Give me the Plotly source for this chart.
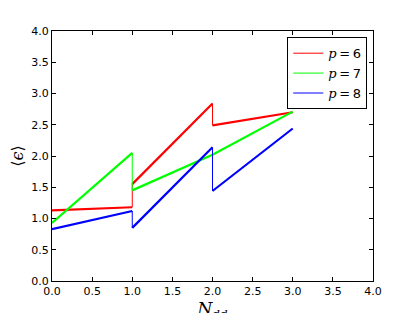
import plotly.graph_objects as go

x_nodes = [0, 1, 2, 3]
labels = ["p=6", "p=7", "p=8"]
colors = ["#ff0000", "#00ff00", "#0000ff"]
# value at start and end of each unit interval [x_i, x_{i+1}]
start_vals = {
    "p=6": [1.13, 1.55, 2.49],
    "p=7": [0.93, 1.45, 2.02],
    "p=8": [0.83, 0.85, 1.44],
}
end_vals = {
    "p=6": [1.18, 2.84, 2.70],
    "p=7": [2.05, 2.02, 2.71],
    "p=8": [1.12, 2.14, 2.44],
}

fig = go.Figure()
for lab, col in zip(labels, colors):
    s, e = start_vals[lab], end_vals[lab]
    xs, ys = [], []
    for i in range(len(s)):
        xs += [x_nodes[i], x_nodes[i + 1], None]
        ys += [s[i], e[i], None]
    vx, vy = [], []
    for i in range(1, len(s)):
        vx += [x_nodes[i], x_nodes[i], None]
        vy += [e[i - 1], s[i], None]
    p, num = lab.split("=")
    name = ('<i style="font-family:\'DejaVu Serif\'">' + p + "</i>\u2009=\u2009" + num)
    fig.add_trace(go.Scatter(x=vx, y=vy, mode="lines", line=dict(color=col, width=1),
                             name=name, showlegend=True, legendrank=labels.index(lab)))
    fig.add_trace(go.Scatter(x=xs, y=ys, mode="lines", line=dict(color=col, width=2.2),
                             showlegend=False, hoverinfo="skip"))

axis_common = dict(
    showgrid=False, zeroline=False, showline=True, linecolor="black", linewidth=1,
    mirror="ticks", ticks="inside", ticklen=4, tickcolor="black",
    tickfont=dict(family="DejaVu Sans", size=11, color="black"),
    range=[0, 4], dtick=0.5, tickformat=".1f", automargin=False,
)
fig.update_xaxes(**axis_common,
                 title=dict(text="<i>N</i><sub><i>dd</i></sub>",
                            font=dict(family="DejaVu Serif", size=17, color="black")))
fig.update_yaxes(**axis_common,
                 title=dict(text="⟨<i>ϵ</i>⟩",
                            font=dict(family="DejaVu Serif", size=16, color="black")))

# page body has an 8px default margin, so offsets compensate
fig.update_layout(
    width=415, height=313,
    margin=dict(l=44, r=50, t=23, b=40, autoexpand=False),
    plot_bgcolor="white", paper_bgcolor="white",
    legend=dict(x=0.982, y=0.975, xanchor="right", yanchor="top",
                bordercolor="black", borderwidth=1, bgcolor="white",
                font=dict(family="DejaVu Sans", size=13, color="black"),
                itemwidth=30, tracegroupgap=0),
    showlegend=True,
)
fig.write_html("out.html")
